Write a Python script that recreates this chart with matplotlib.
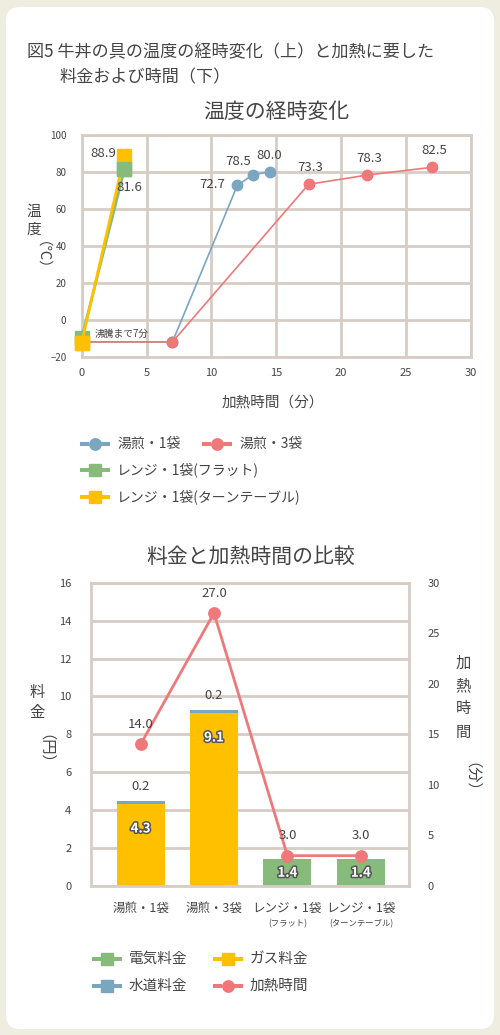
import matplotlib
matplotlib.use("Agg")
import matplotlib.pyplot as plt
from matplotlib.patches import FancyBboxPatch
from matplotlib.lines import Line2D
import matplotlib.patheffects as pe

plt.rcParams['font.family'] = ['Noto Sans CJK JP', 'DejaVu Sans']

# ---------------- data ----------------
title_lines = ["図5 牛丼の具の温度の経時変化（上）と加熱に要した", "料金および時間（下）"]
top_title = "温度の経時変化"
top_xlabel = "加熱時間（分）"
top_ylabel_chars = ["温", "度"]
top_ylabel_unit = "（℃）"

yu1_t = [0, 7, 12, 13.2, 14.5]
yu1_v = [-12, -12, 72.7, 78.5, 80.0]
yu3_t = [0, 7, 17.5, 22, 27]
yu3_v = [-12, -12, 73.3, 78.3, 82.5]
flat_t = [0, 3.3]
flat_v = [-10, 81.6]
turn_t = [0, 3.3]
turn_v = [-12.4, 88.9]
top_series_names = ["湯煎・1袋", "湯煎・3袋", "レンジ・1袋(フラット)", "レンジ・1袋(ターンテーブル)"]
boil_note = "沸騰まで7分"
top_xticks = [0, 5, 10, 15, 20, 25, 30]
top_yticks = [-20, 0, 20, 40, 60, 80, 100]

bot_title = "料金と加熱時間の比較"
categories = ["湯煎・1袋", "湯煎・3袋", "レンジ・1袋", "レンジ・1袋"]
categories_sub = ["", "", "(フラット)", "(ターンテーブル)"]
gas_fee = [4.3, 9.1, 0, 0]
water_fee = [0.2, 0.2, 0, 0]
elec_fee = [0, 0, 1.4, 1.4]
heat_time = [14.0, 27.0, 3.0, 3.0]
bot_left_label = ["料", "金"]
bot_left_unit = "（円）"
bot_right_label = ["加", "熱", "時", "間"]
bot_right_unit = "（分）"
bot_legend = ["電気料金", "ガス料金", "水道料金", "加熱時間"]
bot_yticks = [0, 2, 4, 6, 8, 10, 12, 14, 16]
bot_y2ticks = [0, 5, 10, 15, 20, 25, 30]

# ---------------- style ----------------
BLUE = "#7aa6bf"
RED = "#ee787a"
GREEN = "#87bb7b"
YELLOW = "#ffc000"
GRID = "#d6cdc4"
TXT = "#444444"
BG = "#efece0"

W, H = 500, 1035
fig = plt.figure(figsize=(W / 100, H / 100), dpi=100)
fig.patch.set_facecolor(BG)

def fx(x):
    return x / W

def fy(y):
    return 1 - y / H

# panel
bgax = fig.add_axes([0, 0, 1, 1], zorder=-5)
bgax.set_xlim(0, W)
bgax.set_ylim(H, 0)
bgax.axis("off")
bgax.add_patch(FancyBboxPatch((6 + 14, 7 + 14), 488 - 28, 1022 - 28,
                              boxstyle="round,pad=14", fc="white", ec="none"))

# overlay in pixel coords
ov = fig.add_axes([0, 0, 1, 1], zorder=10)
ov.set_xlim(0, W)
ov.set_ylim(H, 0)
ov.axis("off")
ov.patch.set_alpha(0)

ov.text(27, 52, title_lines[0], fontsize=12.3, color=TXT, va="center", ha="left")
ov.text(60, 77, title_lines[1], fontsize=12.3, color=TXT, va="center", ha="left")

def style_axes(ax):
    for s in ax.spines.values():
        s.set_color(GRID)
        s.set_linewidth(2)
    ax.tick_params(length=0, colors=TXT)
    ax.set_facecolor("white")

# ---------------- top chart ----------------
L, R, T, B = 81.7, 470.7, 135, 356.7
ax1 = fig.add_axes([fx(L), fy(B), (R - L) / W, (B - T) / H])
style_axes(ax1)
ax1.set_xlim(0, 30)
ax1.set_ylim(-20, 100)
ax1.set_xticks(top_xticks)
ax1.set_yticks(top_yticks)
ax1.grid(True, color=GRID, linewidth=2)
ax1.set_axisbelow(True)
ax1.tick_params(axis="y", labelsize=7, pad=11)
ax1.tick_params(axis="x", labelsize=8, pad=8)

ax1.plot(yu1_t, yu1_v, color=BLUE, lw=1.2, marker="o", ms=7.5, zorder=3, markevery=[1, 2, 3, 4], clip_on=False)
ax1.plot(yu3_t, yu3_v, color=RED, lw=1.2, marker="o", ms=7.5, zorder=4, markevery=[1, 2, 3, 4], clip_on=False)
ax1.plot(flat_t, flat_v, color=GREEN, lw=2, marker="s", ms=9.5, zorder=5, clip_on=False)
ax1.plot(turn_t, turn_v, color=YELLOW, lw=2, marker="s", ms=9.5, zorder=6, clip_on=False)
ax1.plot(flat_t[1:], flat_v[1:], color=GREEN, marker="s", ms=9.5, lw=0, zorder=7, clip_on=False)
ax1.plot(turn_t[:1], turn_v[:1], color=YELLOW, marker="s", ms=9.5, lw=0, zorder=8, clip_on=False)

def lab(ax, x, y, s, dx, dy, size=9.5, **kw):
    ax.annotate(s, (x, y), xytext=(dx * 0.72, dy * 0.72), textcoords="offset points",
                ha="center", va="center", fontsize=size, color=TXT, zorder=20, **kw)

lab(ax1, turn_t[1], turn_v[1], f"{turn_v[1]:.1f}", -21, 2)
lab(ax1, flat_t[1], flat_v[1], f"{flat_v[1]:.1f}", 5, -19)
lab(ax1, yu1_t[2], yu1_v[2], f"{yu1_v[2]:.1f}", -25, 1)
lab(ax1, yu1_t[3], yu1_v[3], f"{yu1_v[3]:.1f}", -15, 13)
lab(ax1, yu1_t[4], yu1_v[4], f"{yu1_v[4]:.1f}", -1, 16)
for i in (2, 3, 4):
    lab(ax1, yu3_t[i], yu3_v[i], f"{yu3_v[i]:.1f}", 2, 17)
ax1.annotate(boil_note, (yu3_t[0], yu3_v[0]), xytext=(13 * 0.72, 8 * 0.72),
             textcoords="offset points", ha="left", va="center", fontsize=7, color=TXT)

ov.text(276, 112, top_title, fontsize=15, color=TXT, ha="center", va="center")
ov.text(273, 403, top_xlabel, fontsize=10.5, color=TXT, ha="center", va="center")
ov.text(34, 212, top_ylabel_chars[0], fontsize=10.5, color=TXT, ha="center", va="center")
ov.text(34, 230, top_ylabel_chars[1], fontsize=10.5, color=TXT, ha="center", va="center")
ov.text(34, 263, top_ylabel_unit, fontsize=10.5, color=TXT, ha="center", va="center", rotation=-90)

# legend handles drawn in pixel coordinates
def handle(x, y, color, marker, ms):
    ov.add_line(Line2D([x - 15, x - 6], [y, y], color=color, lw=2.9, solid_capstyle="butt"))
    ov.add_line(Line2D([x + 6, x + 15], [y, y], color=color, lw=2.9, solid_capstyle="butt"))
    ov.add_line(Line2D([x], [y], color=color, marker=marker, ms=ms, lw=0))

top_leg_pos = [(95, 444), (217, 444), (95, 470), (95, 497)]
top_leg_style = [(BLUE, "o"), (RED, "o"), (GREEN, "s"), (YELLOW, "s")]
for name, (x, y), (c, m) in zip(top_series_names, top_leg_pos, top_leg_style):
    handle(x, y, c, m, 8.2 if m == "o" else 8.6)
    ov.text(x + 22, y, name, fontsize=10, color=TXT, ha="left", va="center")

# ---------------- bottom chart ----------------
L2, R2, T2, B2 = 91, 409.3, 582.7, 886
ax2 = fig.add_axes([fx(L2), fy(B2), (R2 - L2) / W, (B2 - T2) / H])
style_axes(ax2)
xs = list(range(len(categories)))
ax2.set_xlim(-0.675, 3.66)
ax2.set_ylim(0, 16)
ax2.set_yticks(bot_yticks)
ax2.set_xticks([])
ax2.grid(True, axis="y", color=GRID, linewidth=2)
ax2.set_axisbelow(True)
ax2.tick_params(axis="y", labelsize=8, pad=14)

bw = 0.655
ax2.bar(xs, gas_fee, width=bw, color=YELLOW, zorder=2)
ax2.bar(xs, water_fee, width=bw, bottom=gas_fee, color=BLUE, zorder=2)
ax2.bar(xs, elec_fee, width=bw, color=GREEN, zorder=2)

ax3 = ax2.twinx()
for s in ax3.spines.values():
    s.set_visible(False)
ax3.set_ylim(0, 30)
ax3.set_yticks(bot_y2ticks)
ax3.tick_params(length=0, colors=TXT, labelsize=8, pad=13)
ax3.plot(xs, heat_time, color=RED, lw=2, marker="o", ms=8.2, zorder=5)

outline = [pe.withStroke(linewidth=2.2, foreground="#555555")]
px_per_unit = (B2 - T2) / 16
for i in xs:
    if water_fee[i] > 0:
        lab(ax2, i, gas_fee[i] + water_fee[i], f"{water_fee[i]:.1f}", 0, 14)
    for v in (gas_fee[i], elec_fee[i]):
        if v > 0:
            h = v * px_per_unit
            off = min(24, h / 2)
            ax2.annotate(f"{v:.1f}", (i, v), xytext=(0, -off * 0.72), textcoords="offset points",
                         ha="center", va="center", fontsize=9.5, color="white",
                         fontweight="bold", path_effects=outline, zorder=20)
    lab(ax3, i, heat_time[i], f"{heat_time[i]:.1f}", 0, 20)

for i in xs:
    ax2.text(i, -0.075, categories[i], transform=ax2.get_xaxis_transform(),
             ha="center", va="center", fontsize=9, color=TXT)
    if categories_sub[i]:
        ax2.text(i, -0.124, categories_sub[i], transform=ax2.get_xaxis_transform(),
                 ha="center", va="center", fontsize=6, color=TXT)

ov.text(251, 557, bot_title, fontsize=15, color=TXT, ha="center", va="center")
for k, ch in enumerate(bot_left_label):
    ov.text(37, 692 + 21 * k, ch, fontsize=11, color=TXT, ha="center", va="center")
ov.text(37, 757, bot_left_unit, fontsize=11, color=TXT, ha="center", va="center", rotation=-90)
for k, ch in enumerate(bot_right_label):
    ov.text(463, 663 + 23 * k, ch, fontsize=11, color=TXT, ha="center", va="center")
ov.text(463, 785, bot_right_unit, fontsize=11, color=TXT, ha="center", va="center", rotation=-90)

bot_leg_pos = [(107, 959), (228, 959), (107, 986), (228, 986)]
bot_leg_style = [(GREEN, "s"), (YELLOW, "s"), (BLUE, "s"), (RED, "o")]
for name, (x, y), (c, m) in zip(bot_legend, bot_leg_pos, bot_leg_style):
    handle(x, y, c, m, 8.2 if m == "o" else 8.6)
    ov.text(x + 22, y, name, fontsize=10.5, color=TXT, ha="left", va="center")

fig.savefig("out.png", dpi=100, facecolor=BG)
